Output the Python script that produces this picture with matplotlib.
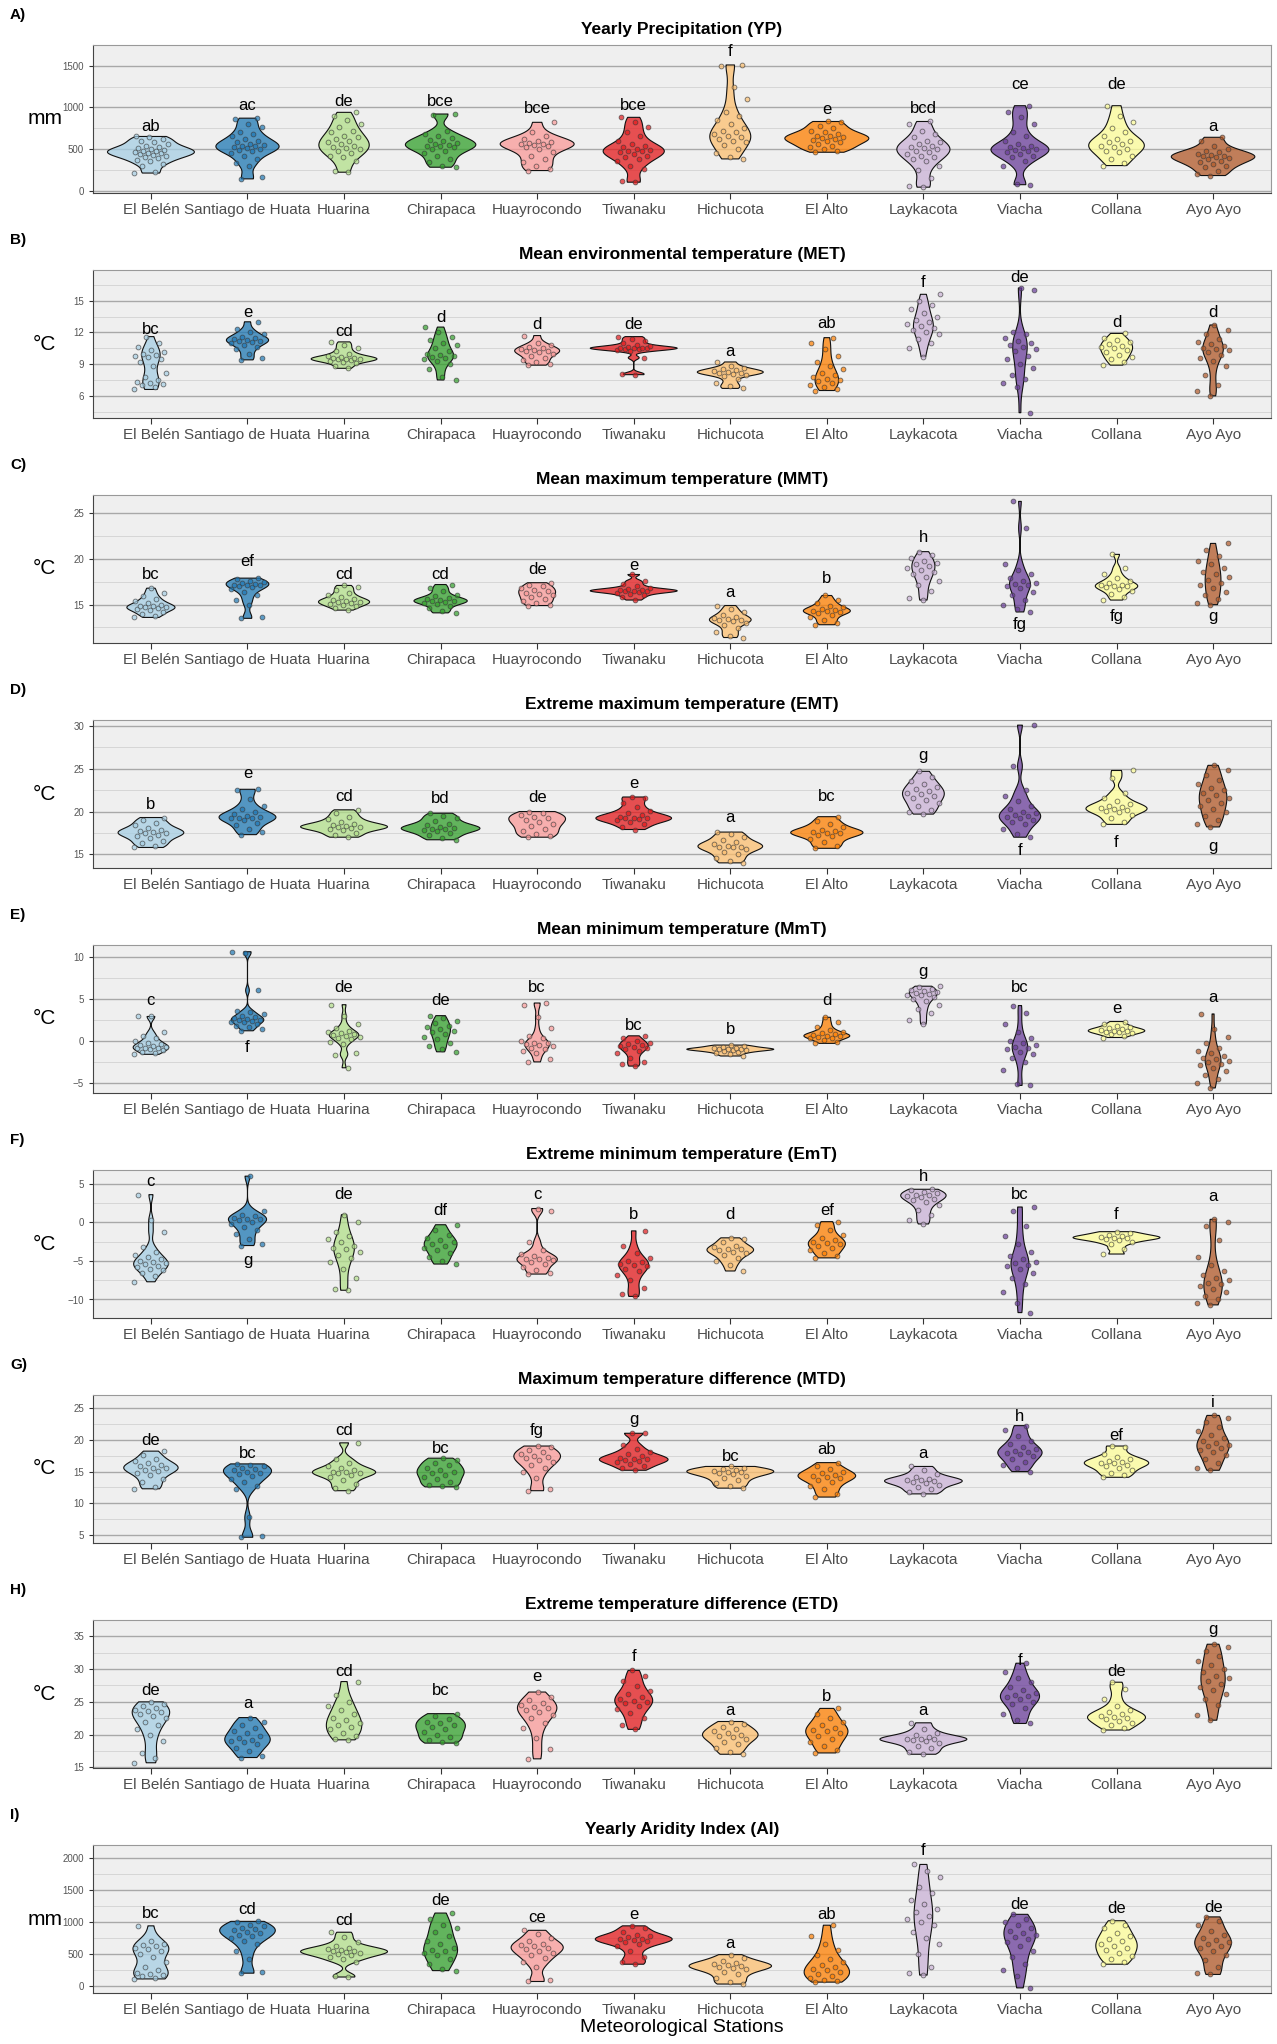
import numpy as np
import matplotlib
matplotlib.use('Agg')
import matplotlib.pyplot as plt
from matplotlib.ticker import MultipleLocator

plt.rcParams['font.family'] = ['Liberation Sans', 'DejaVu Sans']

# estaciones y colores (paleta Paired)
stations = ['El Belén', 'Santiago de Huata', 'Huarina', 'Chirapaca', 'Huayrocondo', 'Tiwanaku',
            'Hichucota', 'El Alto', 'Laykacota', 'Viacha', 'Collana', 'Ayo Ayo']
colors = ['#A6CEE3', '#1F78B4', '#B2DF8A', '#33A02C', '#FB9A99', '#E31A1C',
          '#FDBF6F', '#FF7F00', '#CAB2D6', '#6A3D9A', '#FFFF99', '#B15928']

# A) Yearly Precipitation (mm)
yp_values = [
    [210, 220, 300, 320, 350, 370, 390, 400, 420, 430, 440, 450, 455, 460, 470, 480, 490, 500, 510, 520, 540, 560, 580, 600, 620, 640, 650],
    [140, 160, 300, 330, 380, 420, 450, 470, 490, 500, 510, 520, 530, 540, 550, 560, 580, 600, 620, 650, 680, 700, 760, 800, 860, 870],
    [220, 240, 360, 400, 420, 450, 480, 500, 510, 520, 540, 560, 580, 600, 620, 640, 660, 700, 720, 760, 800, 850, 900, 940],
    [280, 300, 340, 380, 420, 450, 480, 500, 520, 530, 540, 550, 560, 570, 590, 610, 630, 650, 680, 720, 910, 920],
    [240, 260, 300, 340, 380, 420, 460, 500, 520, 540, 550, 555, 560, 570, 580, 600, 620, 650, 700, 820],
    [100, 120, 260, 300, 350, 380, 400, 420, 440, 460, 470, 480, 490, 500, 520, 540, 560, 600, 650, 700, 760, 820, 880],
    [380, 400, 450, 500, 550, 580, 600, 620, 640, 660, 680, 700, 720, 750, 800, 850, 900, 950, 1100, 1250, 1500, 1510],
    [460, 480, 500, 520, 540, 560, 580, 600, 610, 620, 630, 640, 650, 660, 680, 700, 720, 750, 780, 820, 830],
    [40, 60, 150, 250, 300, 350, 380, 400, 420, 440, 460, 480, 500, 510, 520, 540, 560, 580, 600, 640, 680, 720, 800, 830],
    [70, 80, 300, 350, 400, 420, 440, 460, 480, 490, 500, 510, 520, 540, 560, 600, 650, 700, 800, 880, 950, 1020],
    [300, 330, 380, 420, 460, 480, 500, 520, 540, 560, 580, 600, 620, 650, 700, 750, 820, 900, 1020],
    [180, 200, 240, 280, 300, 320, 340, 360, 380, 390, 400, 410, 420, 430, 440, 460, 480, 500, 540, 600, 640],
]
yp_letters = ['ab', 'ac', 'de', 'bce', 'bce', 'bce', 'f', 'e', 'bcd', 'ce', 'de', 'a']
yp_letter_y = [774, 1024, 1068, 1068, 983, 1024, 1672, 975, 983, 1273, 1273, 774]

# B) Mean environmental temperature
met_values = [
    [6.6, 6.8, 7.0, 7.1, 7.2, 7.3, 7.5, 7.8, 8.2, 8.8, 9.2, 9.5, 9.7, 9.8, 9.9, 10.0, 10.1, 10.3, 10.6, 11.0, 11.6],
    [9.4, 9.6, 10.0, 10.4, 10.6, 10.8, 11.0, 11.1, 11.2, 11.2, 11.3, 11.4, 11.5, 11.6, 11.8, 12.0, 12.3, 13.0],
    [8.6, 8.8, 9.1, 9.2, 9.3, 9.4, 9.45, 9.5, 9.5, 9.55, 9.6, 9.7, 9.8, 10.0, 10.2, 10.5, 10.8, 11.1],
    [7.5, 7.8, 8.5, 9.0, 9.3, 9.5, 9.6, 9.7, 9.8, 9.9, 10.0, 10.2, 10.5, 10.8, 11.0, 11.3, 11.6, 12.0, 12.5],
    [8.9, 9.0, 9.2, 9.4, 9.6, 9.8, 10.0, 10.1, 10.2, 10.2, 10.3, 10.4, 10.5, 10.6, 10.8, 11.0, 11.7],
    [8.0, 8.1, 9.6, 10.2, 10.3, 10.4, 10.45, 10.5, 10.5, 10.5, 10.55, 10.6, 10.7, 10.8, 11.0, 11.2, 11.4, 11.6],
    [6.7, 6.9, 7.2, 7.6, 7.9, 8.0, 8.1, 8.2, 8.2, 8.25, 8.3, 8.4, 8.5, 8.6, 8.8, 9.2],
    [6.5, 6.6, 6.8, 7.0, 7.2, 7.4, 7.5, 7.6, 7.8, 8.0, 8.2, 8.5, 8.8, 9.2, 9.8, 10.4, 11.0, 11.5],
    [9.7, 10.5, 11.0, 11.4, 11.8, 12.0, 12.2, 12.4, 12.6, 12.8, 13.0, 13.2, 13.5, 13.8, 14.2, 14.6, 15.0, 15.6],
    [4.4, 6.8, 7.2, 7.6, 8.0, 8.6, 9.0, 9.5, 9.8, 10.2, 10.4, 10.6, 10.8, 11.0, 11.2, 11.5, 11.8, 12.0, 16.0, 16.2],
    [8.9, 9.2, 9.5, 9.7, 9.9, 10.1, 10.3, 10.5, 10.6, 10.7, 10.9, 11.1, 11.3, 11.5, 11.9],
    [6.0, 6.5, 7.0, 8.0, 8.8, 9.3, 9.6, 9.9, 10.1, 10.3, 10.4, 10.5, 10.7, 10.9, 11.1, 11.4, 11.8, 12.2, 12.7],
]
met_letters = ['bc', 'e', 'cd', 'd', 'd', 'de', 'a', 'ab', 'f', 'de', 'd', 'd']
met_letter_y = [12.3, 13.85, 12.06, 13.4, 12.7, 12.7, 10.2, 12.8, 16.7, 17.2, 12.9, 13.85]

# C) Mean maximum temperature
mmt_values = [
    [13.6, 13.8, 14.0, 14.2, 14.4, 14.5, 14.6, 14.7, 14.7, 14.8, 14.9, 15.0, 15.2, 15.4, 15.6, 15.9, 16.3, 16.8],
    [13.5, 13.7, 15.0, 15.5, 16.0, 16.4, 16.7, 16.9, 17.0, 17.1, 17.2, 17.2, 17.3, 17.4, 17.5, 17.6, 17.8, 17.9],
    [14.4, 14.6, 14.8, 15.0, 15.1, 15.2, 15.3, 15.3, 15.4, 15.5, 15.6, 15.8, 16.0, 16.3, 16.6, 16.9, 17.1],
    [14.1, 14.3, 14.6, 14.9, 15.1, 15.2, 15.3, 15.4, 15.4, 15.5, 15.6, 15.7, 15.9, 16.1, 16.5, 16.8, 17.2],
    [14.9, 15.0, 15.2, 15.4, 15.6, 15.8, 16.0, 16.2, 16.3, 16.5, 16.6, 16.8, 17.0, 17.2, 17.4],
    [15.5, 15.8, 16.0, 16.2, 16.3, 16.4, 16.5, 16.5, 16.5, 16.55, 16.6, 16.7, 16.8, 17.0, 17.3, 17.6, 18.3],
    [11.4, 11.6, 12.0, 12.4, 12.8, 13.0, 13.2, 13.3, 13.3, 13.4, 13.5, 13.7, 13.9, 14.2, 14.5, 14.9],
    [12.8, 13.0, 13.3, 13.6, 13.9, 14.1, 14.2, 14.3, 14.3, 14.4, 14.5, 14.7, 14.9, 15.2, 15.5, 16.0],
    [15.5, 15.7, 16.5, 17.2, 17.6, 18.0, 18.3, 18.6, 18.8, 19.0, 19.2, 19.4, 19.6, 19.8, 20.1, 20.4, 20.8],
    [14.2, 14.5, 15.0, 15.5, 16.0, 16.4, 16.8, 17.0, 17.2, 17.3, 17.4, 17.6, 17.9, 18.3, 18.8, 19.5, 23.4, 26.3],
    [15.5, 15.8, 16.2, 16.5, 16.7, 16.9, 17.0, 17.0, 17.1, 17.2, 17.4, 17.6, 17.9, 18.3, 19.0, 20.5],
    [15.0, 15.2, 15.6, 16.0, 16.4, 16.8, 17.1, 17.4, 17.7, 18.0, 18.3, 18.6, 19.0, 19.4, 19.8, 20.3, 21.0, 21.7],
]
mmt_letters = ['bc', 'ef', 'cd', 'cd', 'de', 'e', 'a', 'b', 'h', 'fg', 'fg', 'g']
mmt_letter_y = [18.3, 19.7, 18.3, 18.3, 18.85, 19.3, 16.3, 17.85, 22.4, 12.85, 13.65, 13.65]

# D) Extreme maximum temperature
emt_values = [
    [15.8, 16.0, 16.3, 16.6, 16.9, 17.1, 17.3, 17.5, 17.5, 17.6, 17.7, 17.9, 18.1, 18.4, 18.7, 19.0, 19.3],
    [17.3, 17.6, 18.0, 18.4, 18.7, 19.0, 19.2, 19.3, 19.3, 19.4, 19.5, 19.7, 20.0, 20.3, 20.7, 21.5, 22.5, 22.6],
    [17.0, 17.2, 17.5, 17.8, 18.0, 18.1, 18.2, 18.2, 18.3, 18.4, 18.6, 18.8, 19.1, 19.4, 19.8, 20.2],
    [16.7, 16.9, 17.2, 17.5, 17.7, 17.9, 18.0, 18.0, 18.1, 18.2, 18.4, 18.6, 18.9, 19.2, 19.5, 19.8],
    [17.0, 17.1, 17.4, 17.7, 18.0, 18.3, 18.6, 18.8, 19.0, 19.2, 19.4, 19.6, 19.8, 20.0],
    [17.9, 18.2, 18.5, 18.8, 19.0, 19.1, 19.2, 19.2, 19.3, 19.4, 19.6, 19.8, 20.1, 20.5, 21.0, 21.6, 21.7],
    [14.0, 14.2, 14.6, 15.0, 15.3, 15.6, 15.8, 15.9, 15.9, 16.0, 16.2, 16.4, 16.7, 17.0, 17.4, 17.6],
    [15.7, 16.0, 16.4, 16.8, 17.1, 17.3, 17.5, 17.5, 17.6, 17.7, 17.9, 18.2, 18.5, 18.9, 19.4],
    [19.7, 19.9, 20.2, 20.6, 21.0, 21.3, 21.6, 21.8, 22.0, 22.2, 22.4, 22.6, 22.9, 23.2, 23.6, 24.0, 24.7],
    [17.0, 17.4, 18.0, 18.5, 18.8, 19.0, 19.2, 19.4, 19.5, 19.6, 19.8, 20.0, 20.3, 20.7, 21.2, 21.8, 22.5, 25.3, 30.1],
    [18.5, 18.8, 19.2, 19.6, 19.9, 20.1, 20.2, 20.3, 20.4, 20.5, 20.7, 20.9, 21.2, 21.6, 22.2, 23.9, 24.8],
    [18.2, 18.6, 19.0, 19.5, 19.9, 20.3, 20.7, 21.0, 21.3, 21.6, 21.9, 22.2, 22.5, 22.8, 23.2, 23.7, 24.3, 24.9, 25.4],
]
emt_letters = ['b', 'e', 'cd', 'bd', 'de', 'e', 'a', 'bc', 'g', 'f', 'f', 'g']
emt_letter_y = [20.8, 24.4, 21.7, 21.5, 21.6, 23.3, 19.3, 21.7, 26.6, 15.5, 16.4, 15.9]

# E) Mean minimum temperature
mnt_values = [
    [-1.6, -1.5, -1.3, -1.1, -1.0, -0.9, -0.8, -0.8, -0.7, -0.6, -0.5, -0.4, -0.2, 0.0, 0.3, 0.6, 1.0, 2.9, 2.9],
    [1.2, 1.4, 1.6, 1.8, 2.0, 2.2, 2.3, 2.4, 2.5, 2.5, 2.6, 2.7, 2.8, 3.0, 3.2, 3.4, 3.6, 6.0, 10.4, 10.6],
    [-3.2, -1.7, -1.5, -0.4, -0.1, 0.2, 0.4, 0.5, 0.6, 0.7, 0.8, 0.9, 1.0, 1.2, 1.5, 2.0, 3.0, 4.3],
    [-1.3, -1.0, -0.6, -0.2, 0.2, 0.5, 0.8, 1.0, 1.2, 1.4, 1.6, 1.8, 2.1, 2.4, 2.7, 3.0],
    [-2.5, -2.2, -1.5, -1.2, -1.0, -0.8, -0.6, -0.5, -0.4, -0.3, -0.2, 0.0, 0.3, 0.6, 1.5, 2.8, 4.3, 4.5],
    [-3.0, -2.8, -2.5, -2.0, -1.5, -1.2, -1.0, -0.8, -0.7, -0.6, -0.5, -0.4, -0.2, 0.0, 0.3, 0.6],
    [-1.8, -1.6, -1.4, -1.3, -1.2, -1.1, -1.05, -1.0, -1.0, -0.95, -0.9, -0.8, -0.7, -0.6, -0.5],
    [-0.3, -0.1, 0.1, 0.3, 0.4, 0.5, 0.6, 0.6, 0.7, 0.8, 0.9, 1.1, 1.3, 1.7, 2.2, 2.8],
    [2.0, 2.5, 3.3, 3.8, 4.3, 4.7, 5.0, 5.2, 5.4, 5.5, 5.6, 5.7, 5.8, 5.9, 6.0, 6.2, 6.4, 6.5],
    [-5.3, -5.1, -3.5, -2.5, -2.0, -1.6, -1.3, -1.0, -0.8, -0.7, -0.5, -0.3, 0.0, 0.4, 1.0, 2.0, 3.3, 4.2],
    [0.4, 0.6, 0.8, 0.9, 1.0, 1.1, 1.2, 1.2, 1.3, 1.4, 1.5, 1.6, 1.8, 2.0, 2.3],
    [-5.6, -5.0, -4.5, -4.0, -3.6, -3.2, -2.9, -2.7, -2.5, -2.4, -2.2, -2.0, -1.8, -1.5, -1.2, -0.8, -0.3, 0.5, 1.4, 3.2],
]
mnt_letters = ['c', 'f', 'de', 'de', 'bc', 'bc', 'b', 'd', 'g', 'bc', 'e', 'a']
mnt_letter_y = [4.8, -0.8, 6.3, 4.8, 6.3, 1.8, 1.3, 4.8, 8.2, 6.3, 3.8, 5.2]

# F) Extreme minimum temperature
ent_values = [
    [-7.7, -7.0, -6.5, -6.2, -6.0, -5.8, -5.6, -5.4, -5.3, -5.2, -5.0, -4.8, -4.5, -4.2, -3.8, -3.2, -1.2, 0.3, 3.6],
    [-3.0, -2.8, -2.2, -1.5, -1.0, -0.6, -0.2, 0.1, 0.3, 0.4, 0.5, 0.6, 0.8, 1.0, 1.5, 6.0],
    [-8.8, -8.6, -7.2, -6.0, -5.2, -4.6, -4.2, -3.8, -3.5, -3.3, -3.0, -2.6, -2.2, -1.8, -1.2, 0.0, 1.0],
    [-5.4, -5.0, -4.5, -4.0, -3.6, -3.3, -3.0, -2.8, -2.6, -2.3, -2.0, -1.6, -1.0, -0.3],
    [-6.7, -6.6, -6.2, -5.8, -5.4, -5.1, -4.9, -4.8, -4.7, -4.6, -4.4, -4.1, -3.6, -2.5, 1.5, 1.8],
    [-9.6, -9.3, -8.5, -7.5, -6.8, -6.3, -6.0, -5.7, -5.5, -5.4, -5.2, -5.0, -4.6, -4.0, -3.0, -1.1],
    [-6.3, -5.5, -5.0, -4.6, -4.2, -4.0, -3.8, -3.6, -3.5, -3.4, -3.2, -3.0, -2.6, -2.2, -2.0],
    [-4.6, -4.3, -4.0, -3.6, -3.3, -3.0, -2.8, -2.7, -2.5, -2.3, -2.0, -1.6, -1.0, -0.3, 0.1],
    [-0.2, 0.3, 1.0, 1.6, 2.2, 2.6, 2.9, 3.1, 3.3, 3.4, 3.5, 3.6, 3.8, 4.0, 4.2, 4.3],
    [-11.7, -10.5, -9.0, -8.0, -7.2, -6.5, -6.0, -5.7, -5.5, -5.3, -5.1, -4.8, -4.4, -3.8, -2.8, -1.7, -0.5, 1.5, 2.0],
    [-4.1, -3.4, -2.8, -2.5, -2.3, -2.1, -2.0, -2.0, -1.9, -1.8, -1.6, -1.4, -1.2],
    [-10.7, -10.4, -10.0, -9.5, -9.0, -8.6, -8.3, -8.0, -7.8, -7.5, -7.2, -6.8, -6.3, -5.5, -4.5, -2.3, -0.5, 0.0, 0.4],
]
ent_letters = ['c', 'g', 'de', 'df', 'c', 'b', 'd', 'ef', 'h', 'bc', 'f', 'a']
ent_letter_y = [5.3, -4.9, 3.6, 1.6, 3.6, 1.0, 1.0, 1.6, 6.0, 3.6, 1.0, 3.3]

# G) Maximum temperature difference
mtd_values = [
    [12.3, 12.6, 13.3, 13.9, 14.4, 14.8, 15.1, 15.3, 15.5, 15.6, 15.8, 16.0, 16.3, 16.6, 17.0, 17.6, 18.2],
    [4.7, 4.9, 7.8, 12.3, 12.8, 13.4, 13.9, 14.3, 14.6, 14.8, 15.0, 15.2, 15.4, 15.6, 15.8, 16.0, 16.2],
    [12.0, 12.4, 13.0, 13.6, 14.1, 14.5, 14.7, 14.8, 14.9, 15.0, 15.2, 15.5, 15.9, 16.4, 17.0, 19.5],
    [12.6, 12.7, 12.9, 13.3, 13.8, 14.2, 14.5, 14.8, 15.0, 15.3, 15.6, 16.0, 16.4, 16.8, 17.1],
    [12.0, 12.3, 14.0, 15.0, 15.6, 16.0, 16.5, 16.8, 17.1, 17.3, 17.5, 17.7, 18.0, 18.4, 18.8, 19.0],
    [15.2, 15.5, 15.9, 16.2, 16.5, 16.7, 16.8, 16.9, 17.0, 17.2, 17.4, 17.7, 18.0, 18.5, 19.2, 21.0, 21.0],
    [12.4, 12.7, 13.2, 13.6, 14.0, 14.3, 14.6, 14.8, 14.9, 15.0, 15.1, 15.2, 15.4, 15.6, 15.8],
    [11.0, 11.5, 12.2, 12.8, 13.3, 13.7, 14.0, 14.2, 14.3, 14.5, 14.7, 15.0, 15.4, 15.9, 16.4],
    [11.5, 11.8, 12.2, 12.6, 12.9, 13.2, 13.4, 13.5, 13.6, 13.7, 13.9, 14.2, 14.6, 15.2, 15.8],
    [15.0, 15.5, 16.0, 16.5, 17.0, 17.4, 17.7, 17.9, 18.0, 18.2, 18.5, 18.9, 19.3, 19.8, 20.5, 21.5, 22.2],
    [14.1, 14.4, 14.8, 15.2, 15.6, 15.9, 16.1, 16.3, 16.4, 16.5, 16.7, 17.0, 17.3, 17.8, 18.9, 19.0],
    [15.2, 15.6, 16.3, 17.0, 17.6, 18.0, 18.4, 18.7, 19.0, 19.2, 19.5, 19.8, 20.2, 20.7, 21.3, 22.0, 22.8, 23.4, 23.8],
]
mtd_letters = ['de', 'bc', 'cd', 'bc', 'fg', 'g', 'bc', 'ab', 'a', 'h', 'ef', 'i']
mtd_letter_y = [19.9, 17.8, 21.5, 18.6, 21.4, 23.1, 17.3, 18.4, 17.8, 23.7, 20.7, 25.9]

# H) Extreme temperature difference
etd_values = [
    [15.7, 16.5, 17.2, 19.0, 20.0, 20.8, 21.5, 22.0, 22.5, 22.9, 23.2, 23.4, 23.6, 23.8, 24.0, 24.3, 24.6, 25.0],
    [16.5, 16.8, 17.5, 18.0, 18.5, 18.8, 19.0, 19.2, 19.5, 19.8, 20.2, 20.6, 21.0, 21.5, 22.0, 22.6],
    [19.2, 19.4, 19.8, 20.3, 20.8, 21.2, 21.5, 21.8, 22.2, 22.6, 23.1, 23.7, 24.3, 25.0, 26.0, 28.1],
    [18.7, 18.8, 19.2, 19.6, 20.0, 20.4, 20.8, 21.1, 21.4, 21.7, 22.0, 22.4, 22.8, 23.2],
    [16.3, 17.8, 19.5, 21.0, 21.8, 22.5, 23.0, 23.4, 23.8, 24.0, 24.2, 24.5, 24.8, 25.3, 25.8, 26.5],
    [20.8, 21.5, 22.5, 23.3, 23.9, 24.4, 24.8, 25.0, 25.2, 25.5, 25.8, 26.2, 26.7, 27.4, 28.2, 29.0, 29.8],
    [17.0, 17.4, 18.0, 18.5, 18.9, 19.3, 19.6, 19.8, 20.0, 20.2, 20.5, 20.8, 21.2, 21.6, 22.0],
    [17.2, 17.6, 18.3, 18.9, 19.4, 19.8, 20.2, 20.5, 20.7, 21.0, 21.4, 21.9, 22.5, 23.2, 24.0],
    [17.0, 17.4, 17.9, 18.3, 18.7, 19.0, 19.2, 19.3, 19.3, 19.4, 19.6, 19.9, 20.3, 20.9, 21.8],
    [21.7, 22.3, 23.2, 24.0, 24.6, 25.0, 25.4, 25.7, 25.9, 26.1, 26.4, 26.8, 27.3, 28.0, 28.6, 29.5, 30.9],
    [20.7, 21.0, 21.4, 21.8, 22.1, 22.4, 22.6, 22.7, 22.9, 23.1, 23.4, 23.8, 24.3, 25.5, 27.0, 28.0],
    [22.2, 23.0, 24.5, 25.5, 26.2, 26.8, 27.3, 27.8, 28.2, 28.6, 29.0, 29.5, 30.0, 30.6, 31.3, 32.0, 32.8, 33.4, 33.8],
]
etd_letters = ['de', 'a', 'cd', 'bc', 'e', 'f', 'a', 'b', 'a', 'f', 'de', 'g']
etd_letter_y = [26.8, 24.7, 29.7, 26.8, 28.8, 31.9, 23.7, 25.8, 23.7, 31.3, 29.7, 36.0]

# I) Yearly Aridity Index
ai_values = [
    [110, 130, 150, 170, 190, 210, 250, 300, 380, 450, 500, 550, 580, 600, 620, 640, 660, 700, 940],
    [200, 220, 420, 550, 650, 700, 750, 780, 800, 830, 850, 870, 890, 910, 930, 960, 1000, 1010],
    [140, 160, 380, 420, 450, 480, 500, 520, 530, 540, 550, 560, 580, 600, 630, 680, 760, 840],
    [240, 260, 350, 420, 480, 520, 550, 570, 600, 650, 700, 780, 850, 900, 950, 1050, 1140],
    [70, 100, 300, 380, 430, 480, 520, 550, 580, 600, 620, 640, 660, 700, 750, 820, 870],
    [340, 380, 450, 550, 620, 660, 690, 710, 720, 730, 740, 760, 780, 800, 850, 900, 940],
    [30, 60, 120, 180, 220, 260, 280, 300, 310, 320, 340, 360, 390, 430, 490],
    [60, 80, 100, 130, 160, 190, 220, 250, 270, 300, 330, 370, 420, 480, 560, 650, 780, 950],
    [170, 200, 300, 500, 650, 750, 850, 950, 1000, 1050, 1100, 1150, 1200, 1280, 1350, 1450, 1550, 1700, 1800, 1900],
    [-30, 150, 250, 350, 450, 550, 620, 680, 730, 770, 800, 830, 860, 900, 950, 1000, 1050, 1120],
    [340, 380, 420, 470, 520, 560, 600, 630, 660, 700, 740, 780, 830, 900, 960, 1020],
    [180, 200, 300, 400, 480, 540, 590, 630, 660, 690, 720, 750, 800, 860, 950, 1020, 1080],
]
ai_letters = ['bc', 'cd', 'cd', 'de', 'ce', 'e', 'a', 'ab', 'f', 'de', 'de', 'de']
ai_letter_y = [1128, 1190, 1024, 1336, 1066, 1113, 671, 1113, 2116, 1269, 1206, 1222]

# panel: (tag, title, unit, values, letters, letter y, ylim, major step)
panels = [
    ('A)', 'Yearly Precipitation (YP)', 'mm', yp_values, yp_letters, yp_letter_y, (-30, 1750), 500),
    ('B)', 'Mean environmental temperature (MET)', '°C', met_values, met_letters, met_letter_y, (3.9, 17.9), 3),
    ('C)', 'Mean maximum temperature (MMT)', '°C', mmt_values, mmt_letters, mmt_letter_y, (10.8, 27.0), 5),
    ('D)', 'Extreme maximum temperature (EMT)', '°C', emt_values, emt_letters, emt_letter_y, (13.4, 30.7), 5),
    ('E)', 'Mean minimum temperature (MmT)', '°C', mnt_values, mnt_letters, mnt_letter_y, (-6.2, 11.4), 5),
    ('F)', 'Extreme minimum temperature (EmT)', '°C', ent_values, ent_letters, ent_letter_y, (-12.4, 6.8), 5),
    ('G)', 'Maximum temperature difference (MTD)', '°C', mtd_values, mtd_letters, mtd_letter_y, (3.8, 27.0), 5),
    ('H)', 'Extreme temperature difference (ETD)', '°C', etd_values, etd_letters, etd_letter_y, (14.9, 37.5), 5),
    ('I)', 'Yearly Aridity Index (AI)', 'mm', ai_values, ai_letters, ai_letter_y, (-110, 2204), 500),
]


def bw_nrd0(v):
    v = np.asarray(v, float)
    sd = v.std(ddof=1)
    iqr = (np.percentile(v, 75) - np.percentile(v, 25)) / 1.34
    lo = min(sd, iqr) if iqr > 0 else sd
    return 0.9 * lo * len(v) ** -0.2


def kde(v, grid):
    v = np.asarray(v, float)
    bw = bw_nrd0(v)
    z = (grid[:, None] - v[None, :]) / bw
    return np.exp(-0.5 * z ** 2).mean(axis=1) / (bw * np.sqrt(2 * np.pi))


W, H = 1277, 2044
fig = plt.figure(figsize=(W / 100, H / 100), dpi=100)
xpos = np.arange(1, len(stations) + 1)

for k, (tag, title, unit, values, letters, letter_y, ylim, step) in enumerate(panels):
    top = 45 + 225 * k
    ax = fig.add_axes([93 / W, 1 - (top + 148) / H, 1178 / W, 148 / H])
    ax.set_facecolor('#EFEFEF')

    # violines (escala por area como ggplot)
    grids, dens = [], []
    for v in values:
        g = np.linspace(min(v), max(v), 400)
        grids.append(g)
        dens.append(kde(v, g))
    dmax = max(d.max() for d in dens)
    for i, v in enumerate(values):
        half = 0.45 * dens[i] / dmax
        ax.fill_betweenx(grids[i], xpos[i] - half, xpos[i] + half, facecolor=colors[i],
                         alpha=0.75, edgecolor='none', zorder=2)
        ax.fill_betweenx(grids[i], xpos[i] - half, xpos[i] + half, facecolor='none',
                         edgecolor='#111111', linewidth=0.8, zorder=3)
        n = len(v)
        jit = ((np.arange(n) * 0.618034 + 0.31 * i) % 1.0 - 0.5) * 0.36
        ax.scatter(xpos[i] + jit, v, s=12, facecolor=colors[i], edgecolor='#3a3a3a',
                   linewidth=0.6, alpha=0.7, zorder=4)
        ax.text(xpos[i], letter_y[i], letters[i], ha='center', va='center', fontsize=12, zorder=5)

    ax.set_xlim(0.4, 12.6)
    ax.set_ylim(*ylim)
    ax.yaxis.set_major_locator(MultipleLocator(step))
    ax.yaxis.set_minor_locator(MultipleLocator(step / 2))
    ax.grid(True, which='major', axis='y', color='#A8A8A8', linewidth=1.0, zorder=1)
    ax.grid(True, which='minor', axis='y', color='#D6D6D6', linewidth=0.7, zorder=1)
    ax.set_axisbelow(True)
    ax.set_xticks(xpos)
    ax.set_xticklabels(stations, fontsize=11, color='#4D4D4D')
    ax.tick_params(axis='x', length=4, color='#333333', pad=3)
    ax.tick_params(axis='y', which='major', length=3, labelsize=7, labelcolor='#555555', color='#333333')
    ax.tick_params(axis='y', which='minor', length=0)
    for side in ['top', 'right']:
        ax.spines[side].set_color('#999999')
    for side in ['left', 'bottom']:
        ax.spines[side].set_color('#444444')
    ax.set_title(title, fontsize=12.5, fontweight='bold', pad=8)
    ax.text(-0.041, 0.5, unit, transform=ax.transAxes, ha='center', va='center', fontsize=15)
    fig.text(10 / W, 1 - (15 + 225 * k) / H, tag, fontsize=11, fontweight='bold', va='center')

fig.text(682 / W, 1 - 2027 / H, 'Meteorological Stations', ha='center', va='center', fontsize=14)

fig.savefig('out.png', dpi=100)
